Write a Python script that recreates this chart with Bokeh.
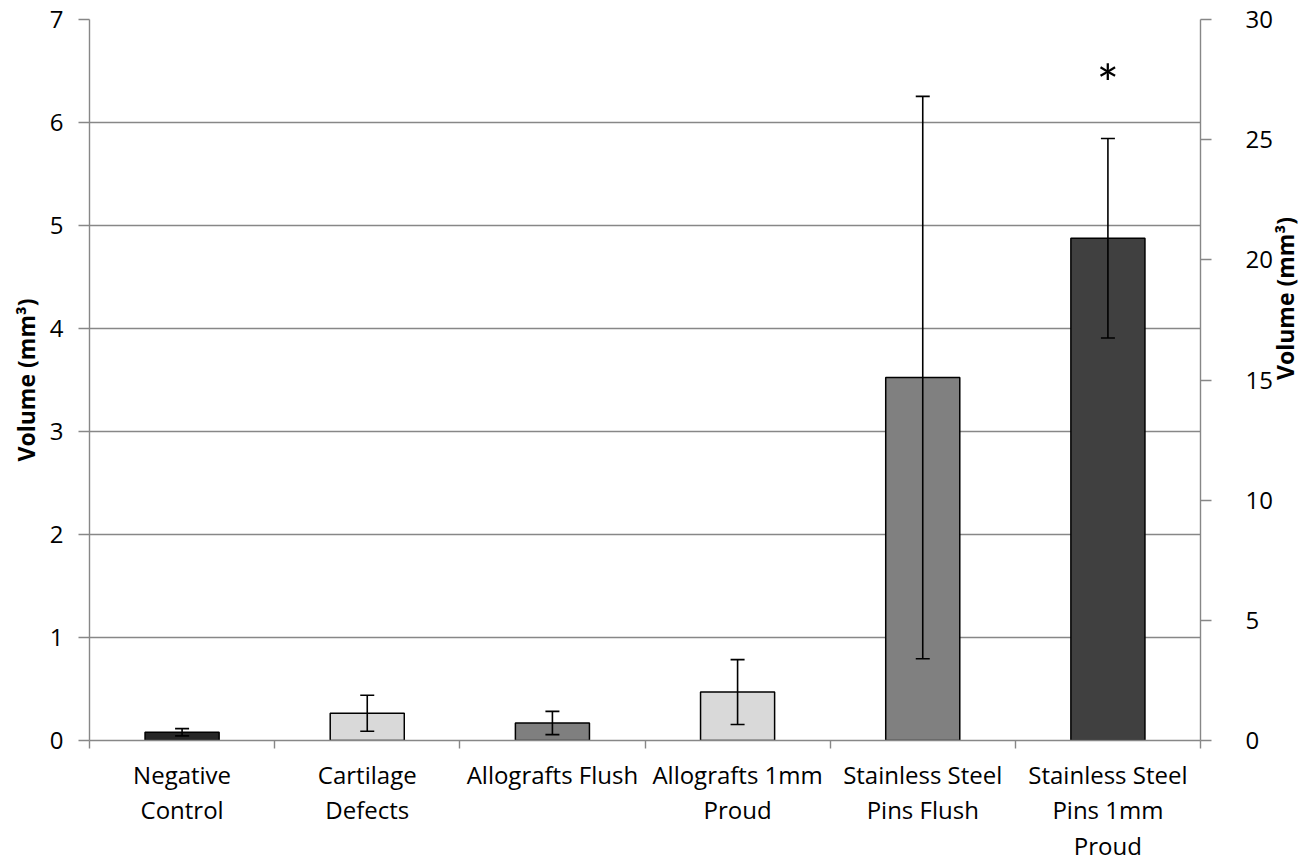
import math
from bokeh.plotting import figure
from bokeh.models import (Range1d, LinearAxis, FixedTicker, ColumnDataSource,
                          Whisker, TeeHead, Label)
from bokeh.embed import file_html
from bokeh.resources import INLINE

# ---- data ----
categories = ["Negative\nControl", "Cartilage\nDefects", "Allografts Flush",
              "Allografts 1mm\nProud", "Stainless Steel\nPins Flush",
              "Stainless Steel\nPins 1mm\nProud"]
# first four groups plotted on left axis (0-7), last two on right axis (0-30)
left_means = [0.08, 0.265, 0.17, 0.47]
left_errs = [0.035, 0.175, 0.113, 0.315]
right_means = [15.1, 20.9]
right_errs = [11.7, 4.15]
bar_colors = ["#262626", "#d9d9d9", "#7f7f7f", "#d9d9d9", "#808080", "#404040"]
left_ticks = [0, 1, 2, 3, 4, 5, 6, 7]
right_ticks = [0, 5, 10, 15, 20, 25, 30]
axis_title = "Volume (mm³)"
significance = "*"

FONT = "Open Sans"
GREY = "#878787"
FS = "24px"

n = len(categories)
xs = [i + 0.5 for i in range(n)]
nl = len(left_means)

p = figure(frame_width=1111, frame_height=721,
           x_range=Range1d(0, n), y_range=Range1d(0, max(left_ticks)),
           output_backend="svg", toolbar_location=None,
           min_border_left=89, min_border_top=19, min_border_right=97,
           min_border_bottom=120)
p.outline_line_color = None
p.background_fill_color = "white"
p.border_fill_color = "white"
p.extra_y_ranges = {"right": Range1d(0, max(right_ticks))}

# grid
p.xgrid.visible = False
p.ygrid.ticker = FixedTicker(ticks=left_ticks)
p.ygrid.grid_line_color = GREY
p.ygrid.grid_line_width = 1.4

# x axis: labels at group centres, ticks at group boundaries
xa = p.xaxis[0]
xa.ticker = FixedTicker(ticks=xs, minor_ticks=list(range(n + 1)))
xa.major_label_overrides = {x: c for x, c in zip(xs, categories)}
xa.major_label_text_font = FONT
xa.major_label_text_font_size = FS
xa.major_label_text_color = "black"
xa.major_label_text_line_height = 1.08
xa.major_label_standoff = 9
xa.axis_line_color = GREY
xa.axis_line_width = 1.4
xa.major_tick_line_color = None
xa.major_tick_in = 0
xa.major_tick_out = 0
xa.minor_tick_line_color = GREY
xa.minor_tick_line_width = 1.4
xa.minor_tick_in = 0
xa.minor_tick_out = 8

# left y axis
ya = p.yaxis[0]
ya.ticker = FixedTicker(ticks=left_ticks)
ya.axis_line_color = GREY
ya.axis_line_width = 1.4
ya.major_tick_line_color = GREY
ya.major_tick_line_width = 1.4
ya.major_tick_in = 0
ya.major_tick_out = 11
ya.minor_tick_line_color = None
ya.major_label_standoff = 15
ya.major_label_text_font = FONT
ya.major_label_text_font_size = FS
ya.major_label_text_color = "black"
ya.axis_label = axis_title
ya.axis_label_text_font = FONT
ya.axis_label_text_font_size = "23px"
ya.axis_label_text_font_style = "bold"
ya.axis_label_text_color = "black"
ya.axis_label_standoff = 5

# right y axis
ra = LinearAxis(y_range_name="right", ticker=FixedTicker(ticks=right_ticks))
ra.axis_line_color = GREY
ra.axis_line_width = 1.4
ra.major_tick_line_color = GREY
ra.major_tick_line_width = 1.4
ra.major_tick_in = 0
ra.major_tick_out = 11
ra.minor_tick_line_color = None
ra.major_label_standoff = 34
ra.major_label_text_font = FONT
ra.major_label_text_font_size = FS
ra.major_label_text_color = "black"
ra.axis_label = axis_title
ra.axis_label_text_font = FONT
ra.axis_label_text_font_size = "23px"
ra.axis_label_text_font_style = "bold"
ra.axis_label_text_color = "black"
ra.axis_label_standoff = 9
try:
    ra.axis_label_orientation = math.pi / 2
except Exception:
    pass
p.add_layout(ra, "right")

# bars (left axis)
src_l = ColumnDataSource(dict(
    x=xs[:nl], top=left_means, color=bar_colors[:nl],
    upper=[m + e for m, e in zip(left_means, left_errs)],
    lower=[m - e for m, e in zip(left_means, left_errs)]))
p.vbar(x="x", top="top", bottom=0, width=0.4, source=src_l,
       fill_color="color", line_color="black", line_width=1.5)

# bars (right axis)
src_r = ColumnDataSource(dict(
    x=xs[nl:], top=right_means, color=bar_colors[nl:],
    upper=[m + e for m, e in zip(right_means, right_errs)],
    lower=[m - e for m, e in zip(right_means, right_errs)]))
p.vbar(x="x", top="top", bottom=0, width=0.4, source=src_r,
       fill_color="color", line_color="black", line_width=1.5,
       y_range_name="right")

# error bars
for src, rn in ((src_l, "default"), (src_r, "right")):
    w = Whisker(base="x", upper="upper", lower="lower", source=src,
                level="overlay",
                line_color="black", line_width=1.6,
                upper_head=TeeHead(size=14, line_color="black", line_width=1.6),
                lower_head=TeeHead(size=14, line_color="black", line_width=1.6))
    if rn != "default":
        w.y_range_name = rn
    p.add_layout(w)

# significance marker
p.add_layout(Label(x=xs[-1], y=right_means[-1] + right_errs[-1],
                   y_range_name="right", y_offset=55, text=significance,
                   text_align="center", text_baseline="alphabetic",
                   text_font="Lato", text_font_size="52px", text_color="black"))

open("out.html", "w").write(file_html(p, INLINE))
